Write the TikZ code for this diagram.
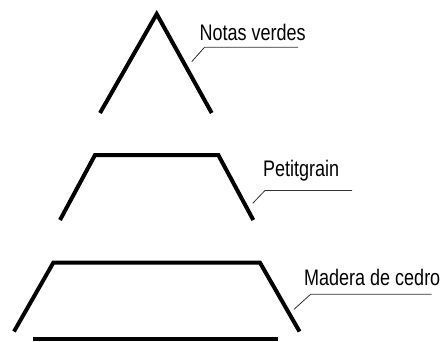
\documentclass[tikz,border=0pt]{standalone}
\usepackage{fontspec}
\setmainfont[FakeStretch=0.8]{Liberation Sans}
\usetikzlibrary{calc}

\begin{document}
\begin{tikzpicture}[x=1pt,y=-1pt,line join=miter]
    \tikzset{tier/.style={line width=4pt},
      leader/.style={line width=.8pt,black!80},
      label/.style={anchor=base west,inner sep=0pt,font=\fontsize{22.5}{26}\selectfont}}
    \useasboundingbox (0,0) rectangle (443,341);
    % top, middle and base
    \draw[tier](100,113)--(156.7,14)--(211.7,113);
    \draw[tier](60,220)--(95,155)--(218.3,155)--(253.3,220);
    \draw[tier](14,331.5)--(53.3,262.7)--(260,262.7)--(299.5,331.5);
    \draw[tier](33.3,339.3)--(278.3,339.3);
    % labels
    \node[label](notas) at (199.5,40){Notas verdes};
    \node[label](petit) at (263,176.7){Petitgrain};
    \node[label](madera) at (304,285){Madera de cedro};
    \coordinate (n1) at (191.7,61.7);
    \coordinate (n2) at (204.5,47.3);
    \coordinate (p1) at (252.7,203.3);
    \coordinate (p2) at (265,190.5);
    \coordinate (m1) at (294,309.3);
    \coordinate (m2) at (310.7,294.2);
    \draw[leader](n1)--(n2)--(298,47.3);
    \draw[leader](p1)--(p2)--(352,190.5);
    \draw[leader](m1)--(m2)--(431.7,294.2);
  \end{tikzpicture}
\end{document}
